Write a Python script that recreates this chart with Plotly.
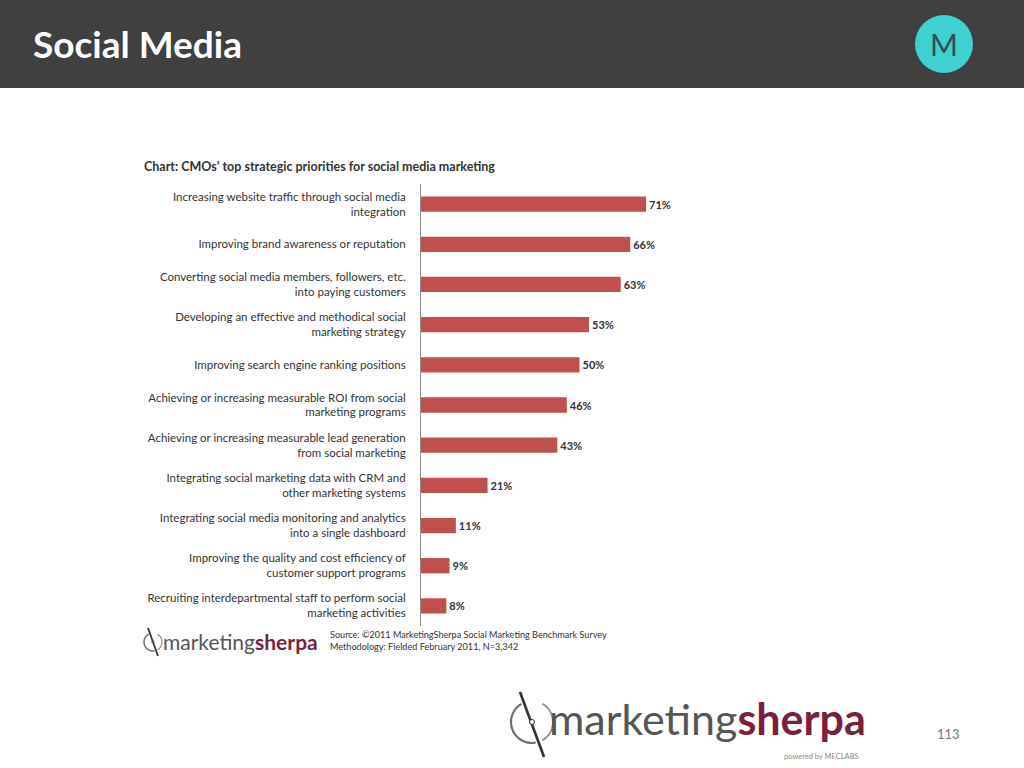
import math
import plotly.graph_objects as go

categories = [
    "Increasing website traffic through social media<br>integration",
    "Improving brand awareness or reputation",
    "Converting social media members, followers, etc.<br>into paying customers",
    "Developing an effective and methodical social<br>marketing strategy",
    "Improving search engine ranking positions",
    "Achieving or increasing measurable ROI from social<br>marketing programs",
    "Achieving or increasing measurable lead generation<br>from social marketing",
    "Integrating social marketing data with CRM and<br>other marketing systems",
    "Integrating social media monitoring and analytics<br>into a single dashboard",
    "Improving the quality and cost efficiency of<br>customer support programs",
    "Recruiting interdepartmental staff to perform social<br>marketing activities",
]
values = [71, 66, 63, 53, 50, 46, 43, 21, 11, 9, 8]
value_labels = [f"{v}%" for v in values]

W, H = 1024, 768
FONT = "Lato"
TXT = "#333333"
BAR = "#C0504D"


def px(x):
    return x / W


def py(y):
    return 1 - y / H


fig = go.Figure()
fig.add_trace(go.Bar(
    x=values, y=categories, orientation="h",
    marker=dict(color=BAR, line=dict(width=0)),
    width=0.38,
    text=value_labels, textposition="outside",
    textfont=dict(family=FONT, size=11, color=TXT),
    texttemplate="<b>%{text}</b>",
    cliponaxis=False,
    hoverinfo="skip",
))

fig.update_layout(
    width=W, height=H,
    margin=dict(l=0, r=0, t=0, b=0),
    paper_bgcolor="white", plot_bgcolor="rgba(0,0,0,0)",
    showlegend=False,
    xaxis=dict(domain=[px(421), px(738)], range=[0, 100], visible=False),
    yaxis=dict(domain=[py(626), py(184)], autorange="reversed",
               showline=True, linecolor="#8c8c8c", linewidth=1,
               showgrid=False, zeroline=False, ticks="",
               ticklabelstandoff=12,
               tickfont=dict(family=FONT, size=11.5, color=TXT)),
    font=dict(family=FONT),
)

shapes = [
    dict(type="rect", xref="paper", yref="paper", x0=0, x1=1, y0=py(88), y1=1,
         fillcolor="#404040", line=dict(width=0), layer="below"),
    dict(type="circle", xref="paper", yref="paper", x0=px(915), x1=px(973),
         y0=py(73), y1=py(15), fillcolor="#3FD0D2", line=dict(width=0)),
]


def arc(cx, cy, r, a0, a1, color, width):
    pts = []
    a = a0
    while a <= a1 + 1e-9:
        t = math.radians(a)
        pts.append((cx + r * math.cos(t), cy - r * math.sin(t)))
        a += 8
    d = "M " + " L ".join(f"{px(x):.5f},{py(y):.5f}" for x, y in pts)
    return dict(type="path", xref="paper", yref="paper", path=d,
                line=dict(color=color, width=width))


def compass(cx, cy, r, top, bottom, w):
    return [
        arc(cx, cy, r, 120, 280, "#6e6e6e", w),
        arc(cx, cy, r, -60, 60, "#8a8a8a", w * 0.8),
        dict(type="line", xref="paper", yref="paper",
             x0=px(top[0]), y0=py(top[1]), x1=px(bottom[0]), y1=py(bottom[1]),
             line=dict(color="#333333", width=w * 1.2)),
        dict(type="circle", xref="paper", yref="paper",
             x0=px(cx - r * 0.12), x1=px(cx + r * 0.12),
             y0=py(cy + r * 0.12), y1=py(cy - r * 0.12),
             fillcolor="white", line=dict(color="#333333", width=1)),
    ]


shapes += compass(153, 642, 9, (148, 628), (158, 656), 1.5)
shapes += compass(532, 722, 21, (520, 692), (544, 757), 2.2)
fig.update_layout(shapes=shapes)

annotations = [
    dict(text="<b>Social Media</b>", x=px(31), y=py(44), xanchor="left", yanchor="middle",
         font=dict(family=FONT, size=37, color="white")),
    dict(text="M", x=px(944), y=py(44), xanchor="center", yanchor="middle",
         font=dict(family=FONT, size=30, color="#2f4f55")),
    dict(text="<b>Chart: CMOs’ top strategic priorities for social media marketing</b>",
         x=px(142), y=py(166), xanchor="left", yanchor="middle",
         font=dict(family=FONT, size=12.5, color=TXT)),
    dict(text="Source: ©2011 MarketingSherpa Social Marketing Benchmark Survey<br>Methodology: Fielded February 2011, N=3,342",
         x=px(328), y=py(640), xanchor="left", yanchor="middle", align="left",
         font=dict(family=FONT, size=9.1, color=TXT)),
    dict(text="marketing<span style='color:#7a1f3d'><b>sherpa</b></span>",
         x=px(161), y=py(641), xanchor="left", yanchor="middle",
         font=dict(family=FONT, size=21, color="#555555")),
    dict(text="marketing<span style='color:#7a1f3d'><b>sherpa</b></span>",
         x=px(547), y=py(718), xanchor="left", yanchor="middle",
         font=dict(family=FONT, size=43, color="#555555")),
    dict(text="powered by MECLABS", x=px(861), y=py(756), xanchor="right", yanchor="middle",
         font=dict(family=FONT, size=7.5, color="#888888")),
    dict(text="113", x=px(948), y=py(734), xanchor="center", yanchor="middle",
         font=dict(family=FONT, size=13, color="#777777")),
]
for a in annotations:
    a.update(xref="paper", yref="paper", showarrow=False)
fig.update_layout(annotations=annotations)

fig.write_html(
    "out.html",
    config={"displayModeBar": False},
    post_script="document.body.style.margin='0';document.body.style.overflow='hidden';",
)
